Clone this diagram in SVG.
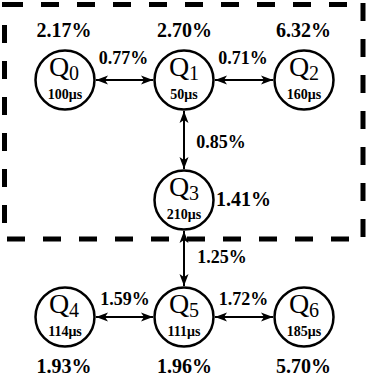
<svg xmlns="http://www.w3.org/2000/svg" width="367" height="376" viewBox="0 0 367 376">
<style>
.box{fill:none;stroke:#000;stroke-width:5;stroke-dasharray:18 18}
.node circle{fill:#fff;stroke:#000;stroke-width:2.5}
text{font-family:'Liberation Serif','DejaVu Serif',serif;fill:#000}
.q{font-size:28px}
.sub{font-size:20px}
.t{font-size:14px;font-weight:bold;text-anchor:middle}
.p{font-size:20px;font-weight:bold;text-anchor:middle}
.e{font-size:18px;font-weight:bold;text-anchor:middle}
.c line{stroke:#000;stroke-width:2;marker-start:url(#ah);marker-end:url(#ah)}
</style>
<defs>
<marker id="ah" viewBox="0 0 12 10" refX="12" refY="5" markerWidth="12" markerHeight="10" markerUnits="userSpaceOnUse" orient="auto-start-reverse">
<path d="M0,0.5 L12,5 L0,9.5 L3,5 Z" fill="#000"/>
</marker>
</defs>
<g id="cluster">
<rect x="2" y="2" width="3" height="5" fill="#000"/>
<line class="box" x1="5" y1="4.5" x2="350" y2="4.5"/>
<line class="box" x1="363" y1="3" x2="363" y2="239"/>
<line class="box" x1="7" y1="239" x2="360" y2="239"/>
<line class="box" x1="4.5" y1="25" x2="4.5" y2="236"/>
</g>
<g id="connectors" class="c">
<line x1="96" y1="80" x2="153" y2="80"/>
<line x1="215" y1="80" x2="273" y2="80"/>
<line x1="184" y1="111" x2="184" y2="169"/>
<line x1="184" y1="231" x2="184" y2="286"/>
<line x1="96" y1="317" x2="153" y2="317"/>
<line x1="215" y1="317" x2="273" y2="317"/>
</g>
<g id="edge-labels">
<text class="e" x="123.5" y="64">0.77%</text>
<text class="e" x="243" y="64">0.71%</text>
<text class="e" x="221" y="148">0.85%</text>
<text class="e" x="222" y="263">1.25%</text>
<text class="e" x="125" y="305">1.59%</text>
<text class="e" x="243.5" y="305">1.72%</text>
</g>
<g id="Q0" class="node">
<circle cx="65" cy="80" r="29.5"/>
<text class="q" x="64" y="76" text-anchor="middle">Q<tspan class="sub" dy="4">0</tspan></text>
<text class="t" x="65" y="99">100μs</text>
<text class="p" x="64" y="37">2.17%</text>
</g>
<g id="Q1" class="node">
<circle cx="184" cy="80" r="29.5"/>
<text class="q" x="184" y="76" text-anchor="middle">Q<tspan class="sub" dy="4">1</tspan></text>
<text class="t" x="184" y="99">50μs</text>
<text class="p" x="184.5" y="37">2.70%</text>
</g>
<g id="Q2" class="node">
<circle cx="304" cy="80" r="29.5"/>
<text class="q" x="304" y="76" text-anchor="middle">Q<tspan class="sub" dy="4">2</tspan></text>
<text class="t" x="304" y="99">160μs</text>
<text class="p" x="303.5" y="37">6.32%</text>
</g>
<g id="Q3" class="node">
<circle cx="184" cy="200" r="29.5"/>
<text class="q" x="184" y="196" text-anchor="middle">Q<tspan class="sub" dy="4">3</tspan></text>
<text class="t" x="184" y="219">210μs</text>
<text class="p" x="243.5" y="206">1.41%</text>
</g>
<g id="Q4" class="node">
<circle cx="65" cy="317" r="29.5"/>
<text class="q" x="64" y="313" text-anchor="middle">Q<tspan class="sub" dy="4">4</tspan></text>
<text class="t" x="65" y="336">114μs</text>
<text class="p" x="64" y="373">1.93%</text>
</g>
<g id="Q5" class="node">
<circle cx="184" cy="317" r="29.5"/>
<text class="q" x="184" y="313" text-anchor="middle">Q<tspan class="sub" dy="4">5</tspan></text>
<text class="t" x="184" y="336">111μs</text>
<text class="p" x="184.5" y="373">1.96%</text>
</g>
<g id="Q6" class="node">
<circle cx="304" cy="317" r="29.5"/>
<text class="q" x="304" y="313" text-anchor="middle">Q<tspan class="sub" dy="4">6</tspan></text>
<text class="t" x="304" y="336">185μs</text>
<text class="p" x="303.5" y="373">5.70%</text>
</g>
</svg>
